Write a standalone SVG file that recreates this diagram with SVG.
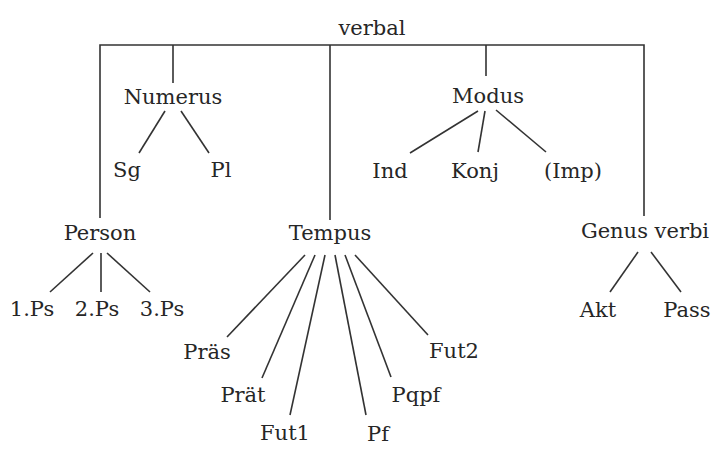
<svg xmlns="http://www.w3.org/2000/svg" width="718" height="449" viewBox="0 0 718 449">
<style>
text{font-family:"DejaVu Serif","Liberation Serif",serif;font-size:21px;fill:#262626;text-anchor:middle}
.c line,.c polyline{stroke:#333333;stroke-width:1.6;fill:none}
</style>
<rect width="718" height="449" fill="#ffffff"/>
<g class="c" id="connectors">
<polyline points="100,218 100,45 644,45 644,216"/>
<line x1="173" y1="45" x2="173" y2="83"/>
<line x1="330" y1="45" x2="330" y2="220"/>
<line x1="486" y1="45" x2="486" y2="76"/>
<line x1="165" y1="111" x2="139" y2="153"/>
<line x1="181" y1="111" x2="209" y2="153"/>
<line x1="478" y1="111" x2="410" y2="153"/>
<line x1="485" y1="111" x2="478" y2="152"/>
<line x1="496" y1="110" x2="546" y2="152"/>
<line x1="93" y1="253" x2="50" y2="292"/>
<line x1="101" y1="253" x2="101" y2="292"/>
<line x1="107" y1="253" x2="150" y2="292"/>
<line x1="305" y1="255" x2="227" y2="337"/>
<line x1="315" y1="255" x2="262" y2="378"/>
<line x1="325" y1="255" x2="290" y2="415"/>
<line x1="335" y1="255" x2="366" y2="415"/>
<line x1="345" y1="255" x2="391" y2="377"/>
<line x1="355" y1="255" x2="428" y2="335"/>
<line x1="638" y1="252" x2="610" y2="292"/>
<line x1="651" y1="252" x2="681" y2="292"/>
</g>
<g id="verbal"><text x="372" y="35">verbal</text></g>
<g id="numerus"><text x="173" y="104">Numerus</text></g>
<g id="sg"><text x="127" y="177">Sg</text></g>
<g id="pl"><text x="221" y="177">Pl</text></g>
<g id="modus"><text x="488" y="103">Modus</text></g>
<g id="ind"><text x="390" y="178">Ind</text></g>
<g id="konj"><text x="475" y="178">Konj</text></g>
<g id="imp"><text x="573" y="178">(Imp)</text></g>
<g id="person"><text x="100" y="240">Person</text></g>
<g id="ps1"><text x="32" y="316">1.Ps</text></g>
<g id="ps2"><text x="97" y="316">2.Ps</text></g>
<g id="ps3"><text x="162" y="316">3.Ps</text></g>
<g id="tempus"><text x="330" y="240">Tempus</text></g>
<g id="praes"><text x="207" y="359">Präs</text></g>
<g id="praet"><text x="243" y="402">Prät</text></g>
<g id="fut1"><text x="285" y="440">Fut1</text></g>
<g id="pf"><text x="378" y="441">Pf</text></g>
<g id="pqpf"><text x="416" y="402">Pqpf</text></g>
<g id="fut2"><text x="454" y="358">Fut2</text></g>
<g id="genus"><text x="645" y="238">Genus verbi</text></g>
<g id="akt"><text x="598" y="317">Akt</text></g>
<g id="pass"><text x="687" y="317">Pass</text></g>
</svg>
